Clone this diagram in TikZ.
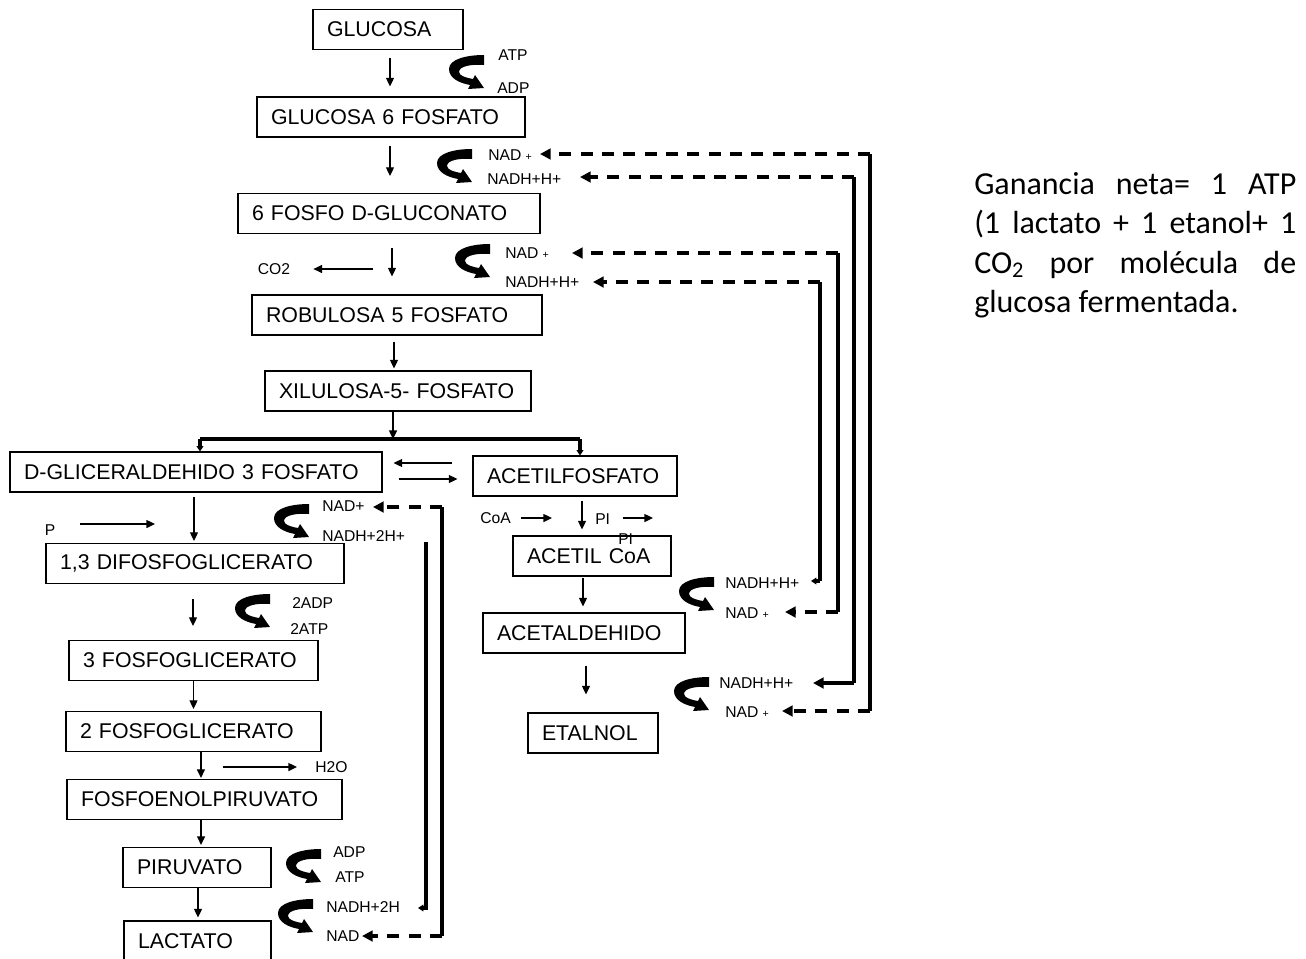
\documentclass[tikz,border=0pt]{standalone}
\usepackage{fontspec}
\setmainfont{Liberation Sans}
\newfontfamily\calib{Carlito}
\usetikzlibrary{arrows.meta}
\newcommand\smallplus{{\fontsize{8}{8}\selectfont +}}
\begin{document}
\begin{tikzpicture}[x=0.75pt,y=-0.75pt]
\tikzset{
 box/.style={draw, line width=0.8pt, rectangle, inner xsep=10.5pt, inner ysep=0pt, minimum height=30pt, align=left, font=\fontsize{16}{19}\selectfont},
 lbl/.style={inner sep=0pt, anchor=west, font=\fontsize{11.75}{14}\selectfont},
 arr/.style={line width=1pt, -{Triangle[length=6.5pt,width=6pt]}},
 brk/.style={line width=2.6pt},
 brktip/.style={-{Triangle[length=4pt,width=5pt]}},
 ret/.style={line width=2.6pt},
 dsh/.style={dash pattern=on 9pt off 7pt},
 rtip/.style={-{Triangle[length=8pt,width=8pt]}},
 stip/.style={-{Triangle[length=4pt,width=5pt]}},
 curl/.pic={\fill (17,-18) -- (17,-8) .. controls (5,-9) and (-8,-7) .. (-8,-1) .. controls (-8,3) and (0,5) .. (6,6) -- (8,2) -- (17,15) -- (1,16) -- (3,12) .. controls (-8,10) and (-18,5) .. (-18,-4) .. controls (-18,-14) and (0,-18) .. (17,-18) -- cycle;},
 rt/.style={anchor=base west, inner sep=0pt, font=\calib\fontsize{24}{29}\selectfont},
}
\useasboundingbox (0,0) rectangle (1306,958);

% boxes
\node[box, text width=91.5pt]  (glu)  at (388,29.5)  {\mbox{GLUCOSA}};
\node[box, text width=180pt]   (g6p)  at (391,117)   {\mbox{GLUCOSA 6 FOSFATO}};
\node[box, text width=205.5pt] (pgd)  at (389,213.5) {\mbox{6 FOSFO D-GLUCONATO}};
\node[box, text width=196.5pt] (r5p)  at (397,315)   {\mbox{ROBULOSA 5 FOSFATO}};
\node[box, text width=178.5pt] (x5p)  at (398,391)   {\mbox{XILULOSA-5- FOSFATO}};
\node[box, text width=258pt]   (dg3)  at (196,472)   {\mbox{D-GLICERALDEHIDO 3 FOSFATO}};
\node[box, text width=132pt]   (acp)  at (575,476)   {\mbox{ACETILFOSFATO}};
\node[box, text width=202.5pt] (dpg)  at (195,563.5) {\mbox{1,3 DIFOSFOGLICERATO}};
\node[box, text width=165.75pt] (pg3) at (193.5,660.5) {\mbox{3 FOSFOGLICERATO}};
\node[box, text width=170.25pt] (pg2) at (193.5,731.5) {\mbox{2 FOSFOGLICERATO}};
\node[box, text width=185.25pt] (pep) at (204.5,799.5) {\mbox{FOSFOENOLPIRUVATO}};
\node[box, text width=90pt]    (pir)  at (197,867.5) {\mbox{PIRUVATO}};
\node[box, text width=89.25pt, minimum height=30.75pt] (lac) at (197.5,941.5) {\mbox{LACTATO}};
\node[box, text width=97.5pt]  (acoa) at (592,556)   {\mbox{ACETIL CoA}};
\node[box, text width=130.5pt] (acd)  at (584,633)   {\mbox{ACETALDEHIDO}};
\node[box, text width=76.5pt]  (eta)  at (593,733)   {\mbox{ETALNOL}};

% main vertical arrows
\draw[arr, shorten <=6pt, shorten >=7.5pt] ([xshift=1.5pt]glu.south) -- ([xshift=1.5pt]glu.south |- g6p.north);
\draw[arr, shorten <=6pt, shorten >=12.75pt] ([xshift=-0.75pt]g6p.south) -- ([xshift=-0.75pt]g6p.south |- pgd.north);
\draw[arr, shorten <=10.5pt, shorten >=13.5pt] ([xshift=2.25pt]pgd.south) -- ([xshift=2.25pt]pgd.south |- r5p.north);
\draw[arr, shorten <=4.5pt, shorten >=1.5pt] ([xshift=-2.25pt]r5p.south) -- ([xshift=-2.25pt]r5p.south |- x5p.north);
\coordinate (br) at (393,439);
\coordinate (bl) at (200,439);
\coordinate (brr) at (580,439);
\draw[arr] (br |- x5p.south) -- (br);
\draw[brk] (bl) -- (brr);
\draw[brk, brktip] (bl) -- (bl |- dg3.north);
\draw[brk, brktip] (brr) -- (brr |- acp.north);
\draw[arr, shorten <=3pt, shorten >=1.5pt] ([xshift=-1.5pt]dg3.south) -- ([xshift=-1.5pt]dg3.south |- dpg.north);
\draw[arr, shorten <=11.25pt, shorten >=10.5pt] ([xshift=-1.5pt]dpg.south) -- ([xshift=-1.5pt]dpg.south |- pg3.north);
\draw[arr, shorten >=1.5pt] (pg3.south) -- (pg3.south |- pg2.north);
\draw[arr, shorten >=0.75pt] ([xshift=5.6pt]pg2.south) -- ([xshift=5.6pt]pg2.south |- pep.north);
\draw[arr, shorten >=1.5pt] ([xshift=-2.6pt]pep.south) -- ([xshift=-2.6pt]pep.south |- pir.north);
\draw[arr, shorten >=2.25pt] ([xshift=0.75pt]pir.south) -- ([xshift=0.75pt]pir.south |- lac.north);
\draw[arr, shorten <=3pt, shorten >=4.5pt] ([xshift=5.25pt]acp.south) -- ([xshift=5.25pt]acp.south |- acoa.north);
\draw[arr, shorten <=0.75pt, shorten >=4.5pt] ([xshift=-6.75pt]acoa.south) -- ([xshift=-6.75pt]acoa.south |- acd.north);
\draw[arr, shorten <=9pt, shorten >=13.5pt] ([xshift=1.5pt]acd.south) -- ([xshift=1.5pt]acd.south |- eta.north);

% equilibrium arrows
\draw[arr, shorten <=15pt, shorten >=8.25pt] ([yshift=9.75pt]acp.west) -- ([yshift=9.75pt]acp.west -| dg3.east);
\draw[arr, shorten <=12pt, shorten >=11.25pt] ([yshift=-5.25pt]dg3.east) -- ([yshift=-5.25pt]dg3.east -| acp.west);

% labels
\node[lbl] (atp1) at (498,55) {ATP};
\node[lbl] (adp1) at (497,88) {ADP};
\node[lbl] (nadA) at (488,155) {NAD \smallplus};
\node[lbl] (nadhB) at (487,179) {NADH+H+};
\node[lbl] (nadC) at (505,253) {NAD \smallplus};
\node[lbl] (nadhD) at (505,282) {NADH+H+};
\node[lbl, anchor=center] (co2) at (274,269) {CO2};
\node[lbl] (nadE) at (322,506) {NAD+};
\node[lbl] (nadhF) at (322,536) {NADH+2H+};
\node[lbl, anchor=center] (p) at (50,530) {P};
\node[lbl] (adp2) at (292,603) {2ADP};
\node[lbl] (atp2) at (290,629) {2ATP};
\node[lbl] (h2o) at (315,767) {H2O};
\node[lbl] (adp3) at (333,852) {ADP};
\node[lbl] (atp3) at (335,877) {ATP};
\node[lbl] (nadhF2) at (326,907) {NADH+2H};
\node[lbl] (nadE2) at (326,936) {NAD};
\node[lbl] (coa) at (480,518) {CoA};
\node[lbl] (pi1) at (595,519) {PI};
\node[lbl] (pi2) at (618,539) {PI};
\node[lbl] (nadhD2) at (725,583) {NADH+H+};
\node[lbl] (nadC2) at (725,613) {NAD \smallplus};
\node[lbl] (nadhB2) at (719,683) {NADH+H+};
\node[lbl] (nadA2) at (725,712) {NAD \smallplus};

% side arrows
\coordinate (co2s) at (373,269);
\draw[arr, shorten >=17.25pt] (co2s) -- (co2);
\coordinate (pe) at (155,524);
\draw[arr] ([xshift=18.75pt, yshift=4.5pt]p.east) -- (pe);
\coordinate (h2os) at (223,767);
\draw[arr, shorten >=13.5pt] (h2os) -- (h2o.west);
\coordinate (coae) at (552,518);
\draw[arr, shorten <=7.5pt] (coa.east) -- (coae);
\coordinate (pie) at (653,518);
\draw[arr, shorten <=9.75pt] ([yshift=0.75pt]pi1.east) -- (pie);

% curved arrows
\pic at (467,73) {curl};
\pic at (455,167) {curl};
\pic at (473,262) {curl};
\pic at (292,522) {curl};
\pic at (253,612) {curl};
\pic at (304,867) {curl};
\pic at (296,917) {curl};
\pic at (697,595) {curl};
\pic at (692,695) {curl};

% return lines
\coordinate (A1) at (870,154);  \coordinate (A2) at (870,711);
\coordinate (tA1) at (540,154); \coordinate (tA2) at (782,711);
\coordinate (B1) at (854,177);  \coordinate (B2) at (854,683);
\coordinate (tB1) at (580,177); \coordinate (tB2) at (813,683);
\coordinate (C1) at (838,253);  \coordinate (C2) at (838,612);
\coordinate (tC1) at (572,253); \coordinate (tC2) at (785,612);
\coordinate (D1) at (820,282);  \coordinate (D2) at (820,581);
\coordinate (tD1) at (593,282); \coordinate (tD2) at (811,581);
\coordinate (E1) at (442,507);  \coordinate (E2) at (442,936);
\coordinate (tE1) at (373,507); \coordinate (tE2) at (362,936);
\coordinate (F1) at (426,542);  \coordinate (F2) at (426,908);
\coordinate (tF2) at (418,908);

\draw[ret] (A1) -- (A2);
\draw[ret, dsh, rtip] (A1) -- (tA1);
\draw[ret, dsh, rtip] (A2) -- (tA2);
\draw[ret] (B1) -- (B2);
\draw[ret, dsh, rtip] (B1) -- (tB1);
\draw[ret, rtip] (B2) -- (tB2);
\draw[ret] (C1) -- (C2);
\draw[ret, dsh, rtip] (C1) -- (tC1);
\draw[ret, dsh, rtip] (C2) -- (tC2);
\draw[ret] (D1) -- (D2);
\draw[ret, dsh, rtip] (D1) -- (tD1);
\draw[ret, stip] (D2) -- (tD2);
\draw[ret] (E1) -- (E2);
\draw[ret, dsh, rtip] (E1) -- (tE1);
\draw[ret, dsh, rtip] (E2) -- (tE2);
\draw[ret, stip] (F1) -- (F2) -- (tF2);

% side text
\node[rt] (t1) at (974,194) {\makebox[241.5pt][s]{Ganancia neta= 1 ATP}};
\node[rt] (t2) at (974,233.5) {\makebox[241.5pt][s]{(1 lactato + 1 etanol+ 1}};
\node[rt] (t3) at (974,273) {\makebox[241.5pt][s]{CO\textsubscript{2} por molécula de}};
\node[rt] (t4) at (974,312.5) {glucosa fermentada.};
\end{tikzpicture}
\end{document}
